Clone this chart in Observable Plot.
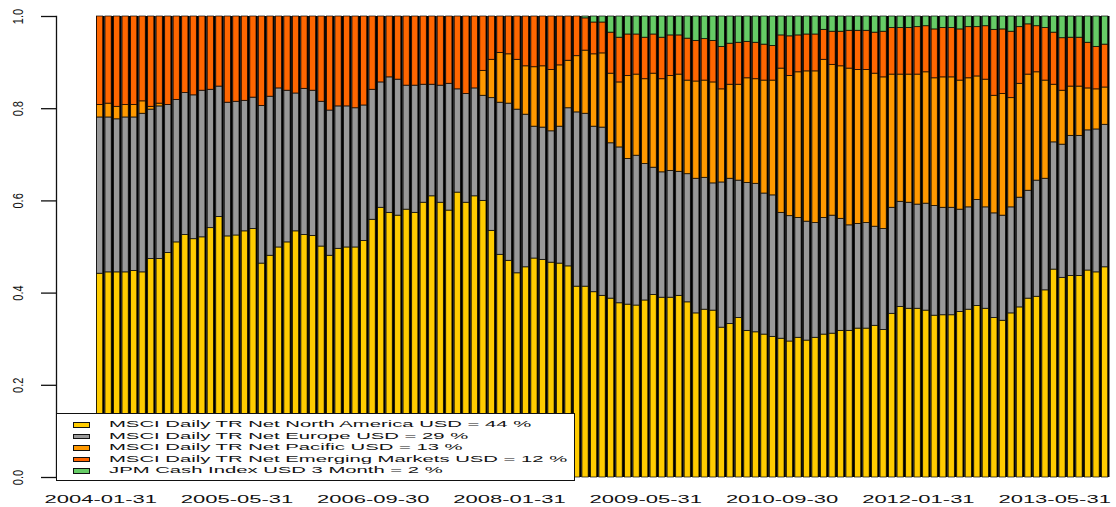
<!DOCTYPE html>
<html>
<head>
<meta charset="utf-8">
<script src="https://cdn.jsdelivr.net/npm/d3@7"></script>
<script src="https://cdn.jsdelivr.net/npm/@observablehq/plot@0.6"></script>
<style>
  html, body { margin: 0; padding: 0; background: #fff; }
  #wrap { position: relative; width: 1116px; height: 507px; font-family: "Liberation Sans", Arial, Helvetica, sans-serif; }
  #legend { position: absolute; left: 56px; top: 413px; width: 519px; height: 68px; box-sizing: border-box;
            border: 1px solid #111; background: #fff; padding-top: 5.25px; }
  .row { height: 11.5px; display: flex; align-items: center; white-space: nowrap; }
  .sw { margin-left: 16px; width: 17px; height: 5.5px; box-sizing: border-box; border: 1px solid #111; flex: none; }
  .lab { margin-left: 19px; font-size: 9px; line-height: 11.5px; color: #111; display: inline-block;
         transform: scaleX(2.25); transform-origin: left center; }
</style>
</head>
<body>
<div id="wrap"></div>
<script>
// ---- Data ----
const seriesNames = [
  "MSCI Daily TR Net North America USD",
  "MSCI Daily TR Net Europe USD",
  "MSCI Daily TR Net Pacific USD",
  "MSCI Daily TR Net Emerging Markets USD",
  "JPM Cash Index USD 3 Month"
];
const seriesShares = [44, 29, 13, 12, 2];
const seriesColors = ["#FFCC00", "#999999", "#FF9900", "#FF6600", "#66CC66"];

const xTicks = ["2004-01-31","2005-05-31","2006-09-30","2008-01-31","2009-05-31","2010-09-30","2012-01-31","2013-05-31"];
const yTicks = [0, 0.2, 0.4, 0.6, 0.8, 1.0];

// month-end dates 2004-01-31 .. 2013-11-30
const dates = d3.utcMonth.range(new Date(Date.UTC(2004, 1, 1)), new Date(Date.UTC(2014, 0, 1)))
  .map(d => d3.utcFormat("%Y-%m-%d")(d3.utcDay.offset(d, -1)));

const northAmerica = [.442,.445,.445,.445,.448,.445,.474,.474,.487,.510,
  .526,.517,.521,.541,.565,.523,.525,.534,.539,.464,
  .481,.499,.510,.534,.526,.524,.501,.481,.496,.499,
  .499,.513,.559,.585,.574,.568,.581,.574,.596,.610,
  .596,.579,.618,.596,.610,.600,.535,.483,.470,.443,
  .456,.475,.472,.466,.464,.458,.414,.414,.402,.394,
  .388,.378,.375,.373,.384,.396,.390,.390,.394,.380,
  .356,.364,.362,.325,.333,.346,.318,.315,.310,.305,
  .301,.295,.303,.297,.303,.310,.312,.318,.318,.323,
  .323,.329,.320,.355,.370,.366,.366,.362,.351,.352,
  .352,.359,.364,.372,.366,.346,.340,.356,.369,.388,
  .392,.406,.451,.433,.437,.437,.449,.445,.456];
const europe = [.339,.336,.332,.336,.333,.344,.324,.331,.321,.309,
  .308,.312,.318,.300,.283,.290,.290,.283,.285,.342,
  .345,.345,.329,.299,.317,.315,.314,.315,.309,.306,
  .302,.294,.282,.272,.294,.295,.269,.276,.256,.242,
  .254,.275,.224,.236,.234,.228,.288,.330,.341,.355,
  .331,.286,.287,.285,.297,.343,.378,.375,.359,.365,
  .337,.338,.316,.325,.296,.276,.272,.275,.269,.278,
  .292,.286,.276,.315,.315,.298,.321,.322,.306,.307,
  .273,.272,.260,.258,.249,.253,.256,.243,.229,.227,
  .229,.215,.219,.230,.228,.230,.226,.232,.238,.233,
  .233,.222,.222,.230,.220,.227,.228,.230,.238,.234,
  .252,.242,.276,.289,.304,.304,.304,.310,.309];
const pacific = [.027,.030,.027,.027,.027,.027,.006,.006,0,0,
  0,0,0,0,0,0,0,0,0,0,
  0,0,0,0,0,0,0,0,0,0,
  0,0,0,0,0,0,0,0,0,0,
  0,0,0,0,0,.054,.083,.108,.107,.108,
  .105,.129,.133,.133,.133,.103,.122,.137,.157,.161,
  .151,.141,.180,.176,.184,.204,.202,.206,.211,.203,
  .211,.211,.219,.202,.204,.208,.227,.227,.245,.249,
  .313,.304,.316,.326,.329,.343,.327,.331,.340,.334,
  .332,.332,.329,.289,.276,.278,.282,.285,.277,.283,
  .283,.280,.280,.268,.277,.255,.264,.237,.247,.252,
  .235,.213,.125,.117,.107,.107,.091,.087,.081];
const emerging = [.192,.189,.196,.192,.192,.184,.196,.189,.192,.181,
  .166,.171,.161,.159,.152,.187,.185,.183,.176,.194,
  .174,.156,.161,.167,.157,.161,.185,.204,.195,.195,
  .199,.193,.159,.143,.132,.137,.150,.150,.148,.148,
  .150,.146,.158,.168,.156,.118,.094,.079,.082,.094,
  .108,.110,.108,.116,.106,.096,.086,.070,.069,.067,
  .089,.097,.090,.087,.090,.085,.090,.088,.085,.091,
  .088,.090,.090,.092,.089,.091,.079,.079,.078,.075,
  .072,.086,.080,.080,.080,.065,.072,.075,.082,.085,
  .085,.089,.099,.101,.101,.101,.103,.100,.106,.107,
  .107,.111,.111,.107,.116,.143,.140,.144,.123,.109,
  .100,.114,.113,.114,.106,.106,.099,.092,.093];
const cash = [0,0,0,0,0,0,0,0,0,0,
  0,0,0,0,0,0,0,0,0,0,
  0,0,0,0,0,0,0,0,0,0,
  0,0,0,0,0,0,0,0,0,0,
  0,0,0,0,0,0,0,0,0,0,
  0,0,0,0,0,0,0,.004,.013,.013,
  .035,.046,.039,.039,.046,.039,.046,.041,.041,.048,
  .053,.049,.053,.066,.059,.057,.055,.057,.061,.064,
  .041,.043,.041,.039,.039,.029,.033,.033,.031,.031,
  .031,.035,.033,.025,.025,.025,.023,.021,.028,.025,
  .025,.028,.023,.023,.021,.029,.028,.033,.023,.017,
  .021,.025,.035,.047,.046,.046,.057,.066,.061];

// ---- Build tidy table ----
const seriesValues = [northAmerica, europe, pacific, emerging, cash];
const rows = [];
seriesNames.forEach((name, s) => {
  seriesValues[s].forEach((v, i) => rows.push({date: dates[i], series: name, value: v}));
});

const chart = Plot.plot({
  width: 1116,
  height: 507,
  marginTop: 16,
  marginBottom: 30,
  marginLeft: 56,
  marginRight: 6.5,
  style: {fontFamily: '"Liberation Sans", Arial, Helvetica, sans-serif', background: "#fff", color: "#111"},
  x: {type: "band", domain: dates, padding: 0, insetLeft: 40, axis: null, label: null},
  y: {domain: [0, 1], axis: null, label: null},
  color: {domain: seriesNames, range: seriesColors},
  marks: [
    Plot.barY(rows, Plot.groupX({y: "sum"}, {x: "date", y: "value", fill: "#000"})),
    Plot.barY(rows, {x: "date", y: "value", fill: "series", insetLeft: 0.5, insetRight: 1.8,
                     stroke: "#000", strokeWidth: 0.9, strokeOpacity: 0.75}),
    Plot.axisX(xTicks, {tickSize: 0, tickPadding: 18, fontSize: 11, label: null}),
    Plot.axisY(yTicks, {tickSize: 15, tickRotate: -90, tickFormat: d3.format(".1f"),
                        tickPadding: 19, fontSize: 11, strokeWidth: 1.3, label: null}),
    Plot.frame({anchor: "left", strokeWidth: 1.3})
  ]
});

// stretch tick labels horizontally (like the reference rendering)
d3.select(chart).selectAll('g[aria-label="x-axis tick label"] text').each(function () {
  const t = this.getAttribute("transform");
  if (t) this.setAttribute("transform", t + " scale(2,1)");
  else {
    const x = this.getAttribute("x") || 0, y = this.getAttribute("y") || 0;
    this.removeAttribute("x"); this.removeAttribute("y");
    this.setAttribute("transform", `translate(${x},${y}) scale(2,1)`);
  }
});
d3.select(chart).selectAll('g[aria-label="y-axis tick label"] text').each(function () {
  const t = this.getAttribute("transform");
  if (t && t.includes("rotate(")) this.setAttribute("transform", t.replace("rotate(", "scale(1.3,1) rotate("));
});

const wrap = document.getElementById("wrap");
wrap.appendChild(chart);

// ---- Legend (inside plot area, bottom-left) ----
const legend = document.createElement("div");
legend.id = "legend";
seriesNames.forEach((name, s) => {
  const row = document.createElement("div");
  row.className = "row";
  const sw = document.createElement("span");
  sw.className = "sw";
  sw.style.background = seriesColors[s];
  const lab = document.createElement("span");
  lab.className = "lab";
  lab.textContent = `${name} = ${seriesShares[s]} %`;
  row.appendChild(sw);
  row.appendChild(lab);
  legend.appendChild(row);
});
wrap.appendChild(legend);
</script>
</body>
</html>
